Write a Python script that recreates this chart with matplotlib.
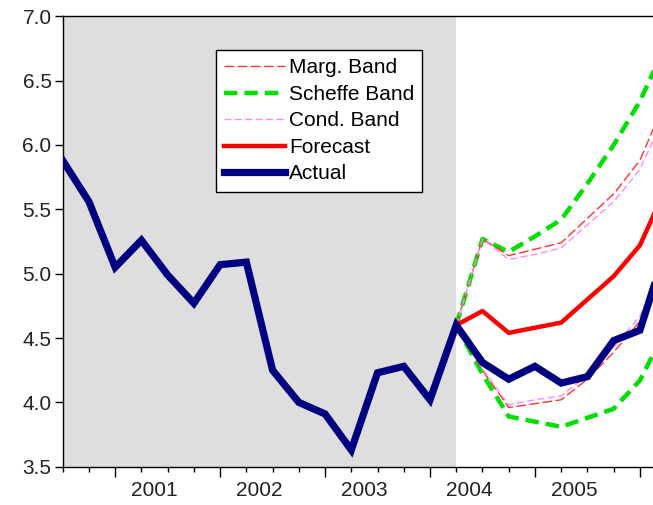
import numpy as np
import matplotlib.pyplot as plt

plt.rcParams['font.family'] = ['Liberation Sans', 'DejaVu Sans']

# quarterly observations, 2000Q3 .. 2006Q2
quarters = ['2000Q3', '2000Q4',
            '2001Q1', '2001Q2', '2001Q3', '2001Q4',
            '2002Q1', '2002Q2', '2002Q3', '2002Q4',
            '2003Q1', '2003Q2', '2003Q3', '2003Q4',
            '2004Q1', '2004Q2', '2004Q3', '2004Q4',
            '2005Q1', '2005Q2', '2005Q3', '2005Q4',
            '2006Q1', '2006Q2']
actual = [5.88, 5.56, 5.05, 5.26, 4.99, 4.77, 5.07, 5.09, 4.25, 4.00,
          3.91, 3.63, 4.23, 4.28, 4.02, 4.60, 4.31, 4.18, 4.28, 4.15,
          4.20, 4.48, 4.56, 5.20]

# forecast period starts at 2004Q2
fc_start = 15
forecast = [4.60, 4.71, 4.54, 4.58, 4.62, 4.80, 4.98, 5.22, 5.67]
marg_up = [4.60, 5.27, 5.14, 5.19, 5.24, 5.43, 5.62, 5.88, 6.36]
marg_lo = [4.60, 4.25, 3.96, 3.99, 4.02, 4.18, 4.39, 4.63, 5.05]
scheffe_up = [4.60, 5.27, 5.17, 5.29, 5.42, 5.70, 6.00, 6.34, 6.78]
scheffe_lo = [4.60, 4.22, 3.89, 3.85, 3.81, 3.88, 3.95, 4.17, 4.57]
cond_up = [4.60, 5.27, 5.11, 5.15, 5.20, 5.38, 5.56, 5.81, 6.25]
cond_lo = [4.60, 4.26, 3.98, 4.02, 4.05, 4.21, 4.43, 4.67, 5.10]

years = ['2001', '2002', '2003', '2004', '2005']

x = np.arange(len(quarters))
xf = np.arange(fc_start, fc_start + len(forecast))

fig = plt.figure(figsize=(6.53, 5.05), dpi=100)
ax = fig.add_axes([0.096, 0.0758, 0.904, 0.8919])

ax.axvspan(0, fc_start, color='#dedede', lw=0, zorder=0)

marg = dict(color='#ff3030', lw=1.0, dashes=(7, 2.5))
sch = dict(color='#00e000', lw=3.2, dashes=(3, 1.6))
cond = dict(color='#ff88ff', lw=1.0, dashes=(5, 2.5))

ax.plot(xf, scheffe_up, **sch, label='Scheffe Band', zorder=2)
ax.plot(xf, scheffe_lo, **sch, zorder=2)
ax.plot(xf, marg_up, **marg, label='Marg. Band', zorder=3)
ax.plot(xf, marg_lo, **marg, zorder=3)
ax.plot(xf, cond_up, **cond, label='Cond. Band', zorder=3)
ax.plot(xf, cond_lo, **cond, zorder=3)
ax.plot(xf, forecast, color='#ff0000', lw=3.2, label='Forecast', zorder=4)
ax.plot(x, actual, color='#000080', lw=5.2, label='Actual', zorder=5,
        solid_joinstyle='miter')

ax.set_yticks(np.arange(3.5, 7.01, 0.5))
ax.set_yticklabels(['%.1f' % v for v in np.arange(3.5, 7.01, 0.5)])

major = [i for i, q in enumerate(quarters) if q.endswith('Q1')]
minor = [i for i in range(len(quarters)) if i not in major]
ax.set_xticks(major)
ax.set_xticklabels([''] * len(major))
ax.set_xticks(minor, minor=True)
ax.tick_params(axis='x', which='major', length=7.5, width=1.0, direction='out')
ax.tick_params(axis='x', which='minor', length=3.8, width=1.0, direction='out')
ax.tick_params(axis='y', length=6, width=1.0, direction='out',
               labelsize=15, pad=2, labelcolor='#222222')

# year labels centred on each year's four quarters
sec = ax.secondary_xaxis('bottom')
sec.set_xticks([m + 1.5 for m in major[:len(years)]])
sec.set_xticklabels(years)
sec.tick_params(length=0, labelsize=15, pad=10, labelcolor='#222222')
sec.spines['bottom'].set_visible(False)

ax.set_xlim(0, 22.5)
ax.set_ylim(3.5, 7.0)

ax.spines['right'].set_visible(False)
for s in ['left', 'bottom', 'top']:
    ax.spines[s].set_linewidth(1.0)

h, l = ax.get_legend_handles_labels()
order = ['Marg. Band', 'Scheffe Band', 'Cond. Band', 'Forecast', 'Actual']
hh = [h[l.index(o)] for o in order]
leg = ax.legend(hh, order, loc='upper left', bbox_to_anchor=(0.2597, 0.925),
                borderaxespad=0, fontsize=15, handlelength=2.9,
                handletextpad=0.2, labelspacing=0.36, borderpad=0.4,
                fancybox=False, framealpha=1, edgecolor='black')
leg.get_frame().set_linewidth(1.0)

fig.savefig('out.png', dpi=100)
